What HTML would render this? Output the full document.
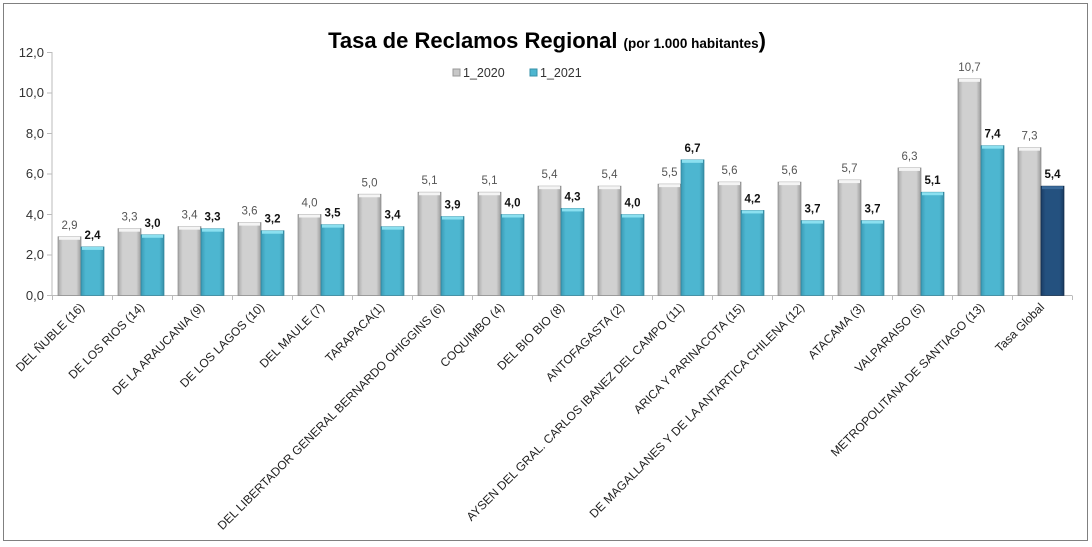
<!DOCTYPE html>
<html><head><meta charset="utf-8"><style>
body{margin:0;background:#fff}
svg{display:block;font-family:"Liberation Sans",sans-serif}
</style></head><body>
<svg width="1092" height="547" viewBox="0 0 1092 547">
<defs>
<linearGradient id="g" x1="0" x2="1" y1="0" y2="0"><stop offset="0" stop-color="#a8a8a8"/><stop offset="0.2" stop-color="#d0d0d0"/><stop offset="0.8" stop-color="#d0d0d0"/><stop offset="1" stop-color="#9a9a9a"/></linearGradient>
<linearGradient id="b" x1="0" x2="1" y1="0" y2="0"><stop offset="0" stop-color="#3a9ab4"/><stop offset="0.2" stop-color="#4db6d0"/><stop offset="0.8" stop-color="#4db6d0"/><stop offset="1" stop-color="#3690a8"/></linearGradient>
<linearGradient id="d" x1="0" x2="1" y1="0" y2="0"><stop offset="0" stop-color="#1b3d66"/><stop offset="0.2" stop-color="#24517f"/><stop offset="0.8" stop-color="#24517f"/><stop offset="1" stop-color="#183a60"/></linearGradient>
</defs>
<rect x="3.5" y="3.5" width="1084" height="537" fill="#fff" stroke="#808080"/>
<text x="547" y="48" text-anchor="middle" font-weight="bold"><tspan font-size="22">Tasa de Reclamos Regional </tspan><tspan font-size="13.5">(por 1.000 habitantes</tspan><tspan font-size="22">)</tspan></text>
<rect x="453" y="69" width="7" height="7" fill="#c8c8c8" stroke="#999"/>
<text x="463" y="77" font-size="12.5" fill="#333">1_2020</text>
<rect x="530" y="69" width="7" height="7" fill="#4db6d0" stroke="#3690a8"/>
<text x="540" y="77" font-size="12.5" fill="#333">1_2021</text>
<g font-size="13" fill="#333" text-anchor="end">
<text x="44" y="57">12,0</text><text x="44" y="97">10,0</text><text x="44" y="138">8,0</text><text x="44" y="178">6,0</text><text x="44" y="219">4,0</text><text x="44" y="259">2,0</text><text x="44" y="300">0,0</text>
</g>
<g stroke="#bbb" fill="none"><path d="M52 52V295.5H1072"/><path d="M47 52.5h5M47 93h5M47 133.5h5M47 174h5M47 214.5h5M47 255h5M47 295.5h5"/></g>
<g id="bars"></g>
<g id="ticks" stroke="#bbb"></g>
<g id="labs" font-size="12" fill="#222" text-anchor="end"></g>
</svg>
<script>
var names=["DEL ÑUBLE (16)","DE LOS RIOS (14)","DE LA ARAUCANIA (9)","DE LOS LAGOS (10)","DEL MAULE (7)","TARAPACA(1)","DEL LIBERTADOR GENERAL BERNARDO OHIGGINS (6)","COQUIMBO (4)","DEL BIO BIO (8)","ANTOFAGASTA (2)","AYSEN DEL GRAL. CARLOS IBANEZ DEL CAMPO (11)","ARICA Y PARINACOTA (15)","DE MAGALLANES Y DE LA ANTARTICA CHILENA (12)","ATACAMA (3)","VALPARAISO (5)","METROPOLITANA DE SANTIAGO (13)","Tasa Global"];
var a=[2.9,3.3,3.4,3.6,4.0,5.0,5.1,5.1,5.4,5.4,5.5,5.6,5.6,5.7,6.3,10.7,7.3];
var b=[2.4,3.0,3.3,3.2,3.5,3.4,3.9,4.0,4.3,4.0,6.7,4.2,3.7,3.7,5.1,7.4,5.4];
var s="";
function f(v){return v.toFixed(1).replace('.',',')}
for(var i=0;i<17;i++){
 var x0=52+i*60,ya=295.5-a[i]*20.25,yb=295.5-b[i]*20.25;
 s+='<rect x="'+(x0+6)+'" y="'+ya+'" width="23" height="'+(295.5-ya)+'" fill="url(#g)" stroke="#8a8a8a" stroke-width="0.7"/>';
 s+='<rect x="'+(x0+7)+'" y="'+ya+'" width="21" height="3" fill="#f4f4f4"/>';
 s+='<rect x="'+(x0+29)+'" y="'+yb+'" width="23" height="'+(295.5-yb)+'" fill="url('+(i==16?'#d':'#b')+')" stroke="'+(i==16?'#102a48':'#2f8299')+'" stroke-width="0.7"/>';
 s+='<rect x="'+(x0+30)+'" y="'+yb+'" width="21" height="3" fill="'+(i==16?'#3a6a9a':'#8be0f0')+'"/>';
 s+='<text x="'+(x0+17.5)+'" y="'+(ya-8)+'" font-size="11.5" fill="#555" text-anchor="middle">'+f(a[i])+'</text>';
 s+='<text x="'+(x0+40.5)+'" y="'+(yb-8)+'" font-size="11.5" font-weight="bold" fill="#111" text-anchor="middle">'+f(b[i])+'</text>';
}
document.getElementById('bars').innerHTML=s;
var t="";for(var i=0;i<=17;i++){t+='<line x1="'+(52.5+i*60)+'" x2="'+(52.5+i*60)+'" y1="295.5" y2="300"/>';}
document.getElementById('ticks').innerHTML=t;
var l="";for(var i=0;i<17;i++){var cx=52+i*60+33,cy=308;l+='<text transform="translate('+cx+','+cy+') rotate(-45)">'+names[i]+'</text>';}
document.getElementById('labs').innerHTML=l;
</script>
</body></html>
